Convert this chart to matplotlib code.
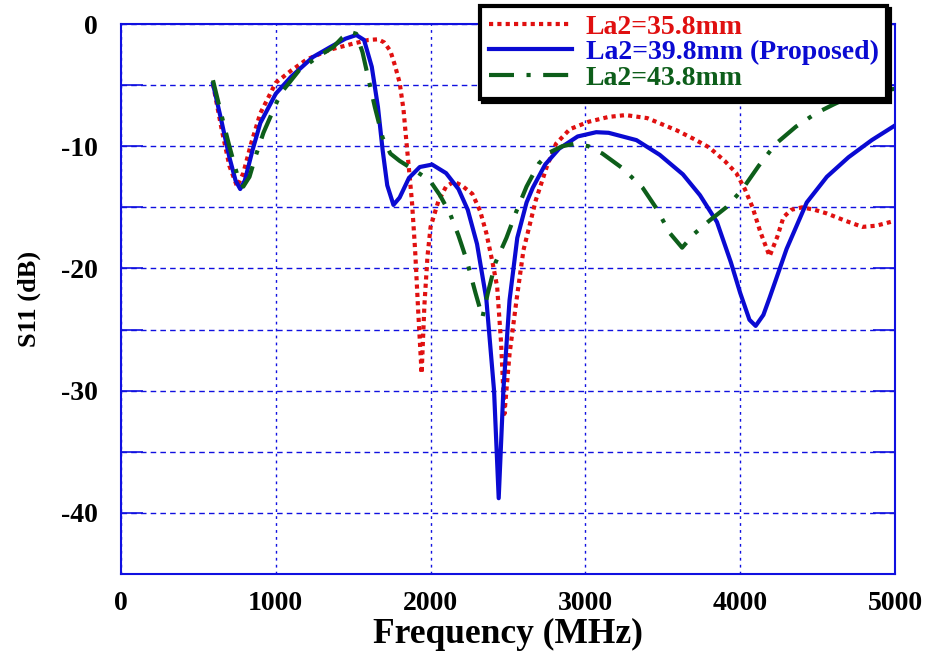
import numpy as np
import matplotlib.pyplot as plt
from matplotlib.ticker import MultipleLocator

plt.rcParams['axes.unicode_minus'] = False

# La2 = 35.8 mm
freq_a = [594, 650, 700, 750, 790, 840, 900, 1000, 1100, 1200, 1350, 1500, 1600, 1660,
          1700, 1740, 1770, 1800, 1825, 1845, 1865, 1880, 1900, 1920, 1942, 1960, 1980,
          2000, 2050, 2100, 2150, 2200, 2270, 2320, 2360, 2400, 2430, 2455, 2477, 2510,
          2555, 2600, 2680, 2750, 2810, 2900, 3020, 3150, 3260, 3400, 3590, 3700, 3800,
          3900, 3975, 4030, 4080, 4130, 4190, 4240, 4280, 4330, 4400, 4480, 4560, 4680,
          4790, 4880, 5000]
s11_a = [-4.9, -8.6, -11.6, -13.3, -12.2, -9.8, -7.3, -4.8, -3.8, -2.9, -2.1, -1.6, -1.3, -1.25,
         -1.5, -2.2, -3.4, -4.8, -7.0, -9.8, -12.5, -14.6, -18.5, -23.5, -28.6, -23.0, -19.0,
         -16.6, -14.5, -13.3, -12.9, -13.2, -13.9, -15.3, -17.1, -19.5, -21.5, -26.0, -31.9, -27.0,
         -22.6, -18.5, -14.4, -11.7, -9.8, -8.6, -8.0, -7.6, -7.45, -7.7, -8.7, -9.4, -10.1,
         -11.2, -12.2, -13.5, -15.0, -17.0, -19.0, -17.4, -15.8, -15.2, -15.0, -15.2, -15.5, -16.1,
         -16.6, -16.5, -16.1]

# La2 = 39.8 mm (proposed)
freq_b = [594, 650, 700, 740, 770, 800, 850, 900, 1000, 1100, 1240, 1350, 1450, 1520, 1570,
          1620, 1660, 1690, 1720, 1760, 1800, 1860, 1930, 2010, 2100, 2180, 2240, 2300, 2360,
          2410, 2440, 2470, 2510, 2560, 2620, 2660, 2740, 2830, 2950, 3070, 3150, 3330, 3480,
          3630, 3740, 3850, 3940, 4000, 4060, 4100, 4150, 4190, 4300, 4430, 4560, 4700, 4850, 5000]
s11_b = [-4.9, -8.0, -10.9, -12.8, -13.5, -12.8, -10.3, -8.1, -5.7, -4.3, -2.7, -1.9, -1.2, -0.9, -1.3,
         -3.5, -6.8, -10.3, -13.2, -14.8, -14.2, -12.6, -11.7, -11.5, -12.2, -13.5, -15.2, -18.0, -22.5,
         -30.0, -38.8, -30.0, -22.6, -17.5, -14.6, -13.4, -11.5, -10.2, -9.2, -8.85, -8.9, -9.5, -10.7,
         -12.3, -14.0, -16.2, -19.5, -22.0, -24.2, -24.7, -23.8, -22.4, -18.4, -14.6, -12.5, -10.9, -9.5, -8.3]

# La2 = 43.8 mm
freq_c = [594, 650, 700, 750, 790, 830, 870, 920, 1030, 1150, 1280, 1370, 1430, 1480, 1520,
          1560, 1590, 1640, 1690, 1740, 1800, 1900, 1995, 2060, 2125, 2180, 2235, 2290, 2335,
          2370, 2420, 2490, 2555, 2620, 2700, 2770, 2850, 2930, 3020, 3110, 3240, 3370, 3460,
          3545, 3625, 3700, 3800, 3910, 4010, 4120, 4230, 4360, 4490, 4600, 4700, 4850, 5000]
s11_c = [-4.6, -7.5, -10.0, -12.3, -13.3, -12.5, -10.8, -8.9, -5.7, -3.8, -2.6, -1.9, -1.1, -0.65, -0.8,
         -2.3, -4.0, -6.8, -9.3, -10.6, -11.2, -12.0, -12.8, -14.0, -15.5, -17.3, -19.4, -22.0, -24.0,
         -22.0, -19.5, -17.5, -15.3, -13.3, -11.4, -10.5, -10.0, -9.8, -10.0, -10.6, -11.8, -13.4, -15.1,
         -17.1, -18.3, -17.2, -16.1, -15.0, -13.6, -11.6, -9.8, -8.4, -7.3, -6.6, -6.0, -5.6, -5.3]

labels = ['La2=35.8mm', 'La2=39.8mm (Proposed)', 'La2=43.8mm']
colors = ['#e01010', '#0a0ad2', '#0d5e1a']

serif = ['Liberation Serif', 'DejaVu Serif']

fig = plt.figure(figsize=(9.28, 6.53), dpi=100)
ax = fig.add_axes([0.1304, 0.121, 0.8340, 0.8422])

ax.plot(freq_a, s11_a, color=colors[0], lw=3, linestyle=(0, (1, 1)), label=labels[0])
ax.plot(freq_b, s11_b, color=colors[1], lw=3, label=labels[1])
ax.plot(freq_c, s11_c, color=colors[2], lw=3, linestyle=(0, (6, 3, 1, 3)), label=labels[2])

ax.set_xlim(0, 5000)
ax.set_ylim(-45, 0)
ax.xaxis.set_major_locator(MultipleLocator(1000))
ax.yaxis.set_major_locator(MultipleLocator(10))
ax.yaxis.set_minor_locator(MultipleLocator(5))

ax.grid(True, which='major', axis='x', color='#1010e0', linestyle=(0, (2, 3)), lw=1)
ax.grid(True, which='both', axis='y', color='#1010e0', linestyle=(0, (4, 3)), lw=1)
ax.set_axisbelow(True)

for sp in ax.spines.values():
    sp.set_color('#1010e0')
    sp.set_linewidth(1.5)

ax.tick_params(axis='y', which='both', direction='in', length=16, color='#1010e0',
               left=True, right=True, width=1.2)
ax.tick_params(axis='x', which='both', length=0, pad=12)
ax.tick_params(axis='y', which='both', pad=17)

for lbl in ax.get_xticklabels() + ax.get_yticklabels():
    lbl.set_fontfamily(serif)
    lbl.set_fontweight('bold')
    lbl.set_fontsize(20)

ax.set_xlabel('Frequency (MHz)', fontfamily=serif, fontweight='bold', fontsize=25.5, labelpad=2)
ax.set_ylabel('S11 (dB)', fontfamily=serif, fontweight='bold', fontsize=19, labelpad=14)

leg = ax.legend(loc='upper right', bbox_to_anchor=(0.956, 0.991), bbox_transform=fig.transFigure,
                prop={'family': serif, 'weight': 'bold', 'size': 20},
                frameon=True, fancybox=False, shadow={'color': 'black', 'alpha': 1},
                handlelength=3.0, handletextpad=0.5, labelspacing=0.0,
                borderpad=0.3, borderaxespad=0)
leg.get_frame().set_edgecolor('black')
leg.get_frame().set_linewidth(3)
leg.set_zorder(5)
for txt, c in zip(leg.get_texts(), colors):
    txt.set_color(c)

plt.savefig('out.png', dpi=100)
